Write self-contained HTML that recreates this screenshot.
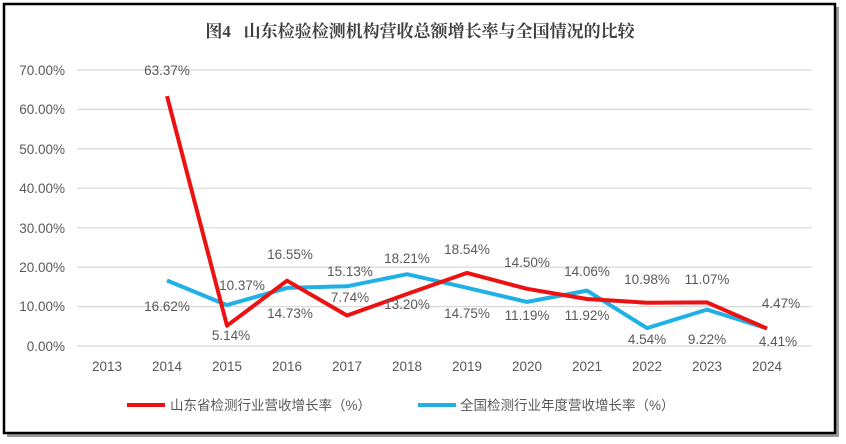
<!DOCTYPE html>
<html><head><meta charset="utf-8"><style>
body{margin:0;background:#fff;width:846px;height:444px;overflow:hidden}
svg{display:block}
text{font-family:"Liberation Sans","Noto Sans CJK SC",sans-serif;fill:#595959;font-size:13.5px}
</style></head><body>
<svg width="846" height="444" viewBox="0 0 846 444">
<rect x="7" y="7" width="832" height="430" fill="#9a9a9a"/>
<rect x="4" y="4" width="831" height="429" fill="#fff" stroke="#000" stroke-width="2.5"/>
<text x="420" y="37" text-anchor="middle" style="font-family:'Liberation Serif','Noto Serif CJK SC',serif;font-size:17px;font-weight:bold;fill:#404040">图4&#160;&#160;&#160;山东检验检测机构营收总额增长率与全国情况的比较</text>
<g stroke="#d9d9d9" stroke-width="1.2">
<line x1="77" x2="812" y1="70" y2="70"/><line x1="77" x2="812" y1="109.4" y2="109.4"/><line x1="77" x2="812" y1="148.9" y2="148.9"/><line x1="77" x2="812" y1="188.3" y2="188.3"/><line x1="77" x2="812" y1="227.7" y2="227.7"/><line x1="77" x2="812" y1="267.1" y2="267.1"/><line x1="77" x2="812" y1="306.6" y2="306.6"/><line x1="77" x2="812" y1="346" y2="346"/>
</g>
<g text-anchor="end">
<text x="65" y="75">70.00%</text><text x="65" y="114">60.00%</text><text x="65" y="154">50.00%</text><text x="65" y="193">40.00%</text><text x="65" y="233">30.00%</text><text x="65" y="272">20.00%</text><text x="65" y="311">10.00%</text><text x="65" y="351">0.00%</text>
</g>
<g text-anchor="middle">
<text x="107" y="371">2013</text><text x="167" y="371">2014</text><text x="227" y="371">2015</text><text x="287" y="371">2016</text><text x="347" y="371">2017</text><text x="407" y="371">2018</text><text x="467" y="371">2019</text><text x="527" y="371">2020</text><text x="587" y="371">2021</text><text x="647" y="371">2022</text><text x="707" y="371">2023</text><text x="767" y="371">2024</text>
</g>
<polyline fill="none" stroke="#1fb0e6" stroke-width="4" stroke-linejoin="round" points="167,280.5 227,305.1 287,287.9 347,286.3 407,274.2 467,287.8 527,301.9 587,290.6 647,328.1 707,309.6 767,328.4"/>
<polyline fill="none" stroke="#ee1111" stroke-width="4" stroke-linejoin="round" points="167,96.1 227,325.7 287,280.7 347,315.5 407,294 467,272.9 527,288.8 587,299 647,302.7 707,302.4 767,328.6"/>
<g text-anchor="middle">
<text x="167" y="75">63.37%</text><text x="167" y="311">16.62%</text>
<text x="231" y="340">5.14%</text><text x="242" y="290">10.37%</text>
<text x="290" y="259">16.55%</text><text x="290" y="318">14.73%</text>
<text x="350" y="276">15.13%</text><text x="350" y="302">7.74%</text>
<text x="407" y="263">18.21%</text><text x="407" y="309">13.20%</text>
<text x="467" y="254">18.54%</text><text x="467" y="318">14.75%</text>
<text x="527" y="267">14.50%</text><text x="527" y="320">11.19%</text>
<text x="587" y="276">14.06%</text><text x="587" y="320">11.92%</text>
<text x="647" y="284">10.98%</text><text x="647" y="344">4.54%</text>
<text x="707" y="284">11.07%</text><text x="707" y="344">9.22%</text>
<text x="781" y="308">4.47%</text><text x="778" y="346">4.41%</text>
</g>
<line x1="127" x2="165" y1="405" y2="405" stroke="#ee1111" stroke-width="4"/>
<text x="170" y="410">山东省检测行业营收增长率（%）</text>
<line x1="418" x2="456" y1="405" y2="405" stroke="#1fb0e6" stroke-width="4"/>
<text x="460" y="410">全国检测行业年度营收增长率（%）</text>
</svg>
</body></html>
